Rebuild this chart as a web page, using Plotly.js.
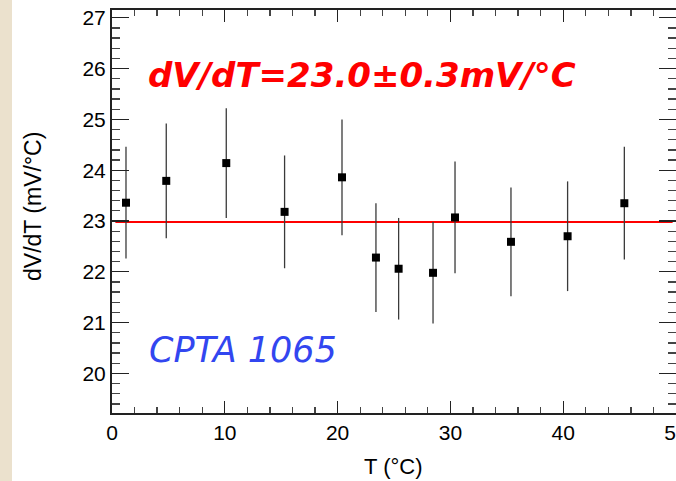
<!DOCTYPE html>
<html>
<head>
<meta charset="utf-8">
<script src="https://cdn.plot.ly/plotly-3.0.1.min.js"></script>
<style>html,body{margin:0;padding:0;background:#fff;}#chart{width:676px;height:481px;}</style>
</head>
<body>
<div id="chart"></div>
<script>
// Data
var temperature = [1.24, 4.81, 10.13, 15.3, 20.39, 23.4, 25.41, 28.46, 30.41, 35.37, 40.39, 45.42];
var dVdT = [23.36, 23.79, 24.14, 23.18, 23.86, 22.28, 22.06, 21.98, 23.07, 22.59, 22.70, 23.35];
var dVdTErr = [1.10, 1.13, 1.08, 1.11, 1.14, 1.07, 1.0, 1.0, 1.10, 1.07, 1.08, 1.11];
var fitX = [0.3, 49.7];
var fitY = [22.98, 22.98];
var xTickVals = [0, 10, 20, 30, 40, 50];
var yTickVals = [20, 21, 22, 23, 24, 25, 26, 27];
var fitLabel = 'dV/dT=23.0±0.3mV/°C';
var deviceLabel = 'CPTA 1065';

var traces = [
  {
    x: fitX, y: fitY, type: 'scatter', mode: 'lines',
    line: {color: '#ff0000', width: 2}, hoverinfo: 'skip', showlegend: false
  },
  {
    x: temperature, y: dVdT, type: 'scatter', mode: 'markers',
    marker: {symbol: 'square', size: 8, color: '#000000'},
    error_y: {type: 'data', array: dVdTErr, visible: true, width: 0, thickness: 1.3, color: '#3a3a3a'},
    showlegend: false
  }
];

var tickFont = {family: 'Liberation Sans, Arial, sans-serif', size: 21, color: '#000'};

var layout = {
  width: 676, height: 481,
  margin: {l: 112, r: 0, t: 10, b: 68, pad: 0},
  paper_bgcolor: '#ffffff', plot_bgcolor: '#ffffff',
  showlegend: false,
  xaxis: {
    range: [0, 50], tickvals: xTickVals, ticktext: xTickVals.map(String),
    ticks: 'inside', ticklen: 12, tickwidth: 1.3, tickcolor: '#222',
    minor: {dtick: 2, tick0: 0, ticks: 'inside', ticklen: 6, tickwidth: 1.3, tickcolor: '#444', showgrid: false},
    showline: true, linewidth: 2, linecolor: '#222', mirror: 'ticks',
    showgrid: false, zeroline: false, tickfont: tickFont, automargin: false,
    ticklabeloverflow: 'allow'
  },
  yaxis: {
    range: [19.22, 27.154], tickvals: yTickVals, ticktext: yTickVals.map(String),
    ticks: 'inside', ticklen: 17, tickwidth: 1.3, tickcolor: '#222',
    minor: {dtick: 0.2, tick0: 0, ticks: 'inside', ticklen: 8, tickwidth: 1.3, tickcolor: '#444', showgrid: false},
    showline: true, linewidth: 2, linecolor: '#222', mirror: 'ticks',
    showgrid: false, zeroline: false, tickfont: tickFont, automargin: false,
    ticklabeloverflow: 'allow'
  },
  shapes: [
    {type: 'rect', xref: 'paper', yref: 'paper', x0: -112/564, x1: -100/564, y0: -68/403, y1: 1 + 10/403,
     fillcolor: '#ebe1cd', line: {width: 0}, layer: 'below'}
  ],
  annotations: [
    {text: fitLabel, xref: 'paper', yref: 'paper', x: (146-112)/564, y: (413-75)/403,
     xanchor: 'left', yanchor: 'middle', showarrow: false,
     font: {family: 'DejaVu Sans, sans-serif', size: 34, color: '#ff0000', weight: 'bold', style: 'italic'}},
    {text: deviceLabel, xref: 'paper', yref: 'paper', x: (147-112)/564, y: (413-350)/403,
     xanchor: 'left', yanchor: 'middle', showarrow: false,
     font: {family: 'DejaVu Sans, sans-serif', size: 35, color: '#3246f0', style: 'italic'}},
    {text: 'T (°C)', xref: 'paper', yref: 'paper', x: (393-112)/564, y: (413-466)/403,
     xanchor: 'center', yanchor: 'middle', showarrow: false,
     font: {family: 'Liberation Sans, Arial, sans-serif', size: 22, color: '#000'}},
    {text: 'dV/dT (mV/°C)', xref: 'paper', yref: 'paper', x: (33-112)/564, y: (413-207)/403,
     xanchor: 'center', yanchor: 'middle', showarrow: false, textangle: -90,
     font: {family: 'Liberation Sans, Arial, sans-serif', size: 23, color: '#000'}}
  ]
};

Plotly.newPlot('chart', traces, layout, {displayModeBar: false, staticPlot: true});
</script>
</body>
</html>
